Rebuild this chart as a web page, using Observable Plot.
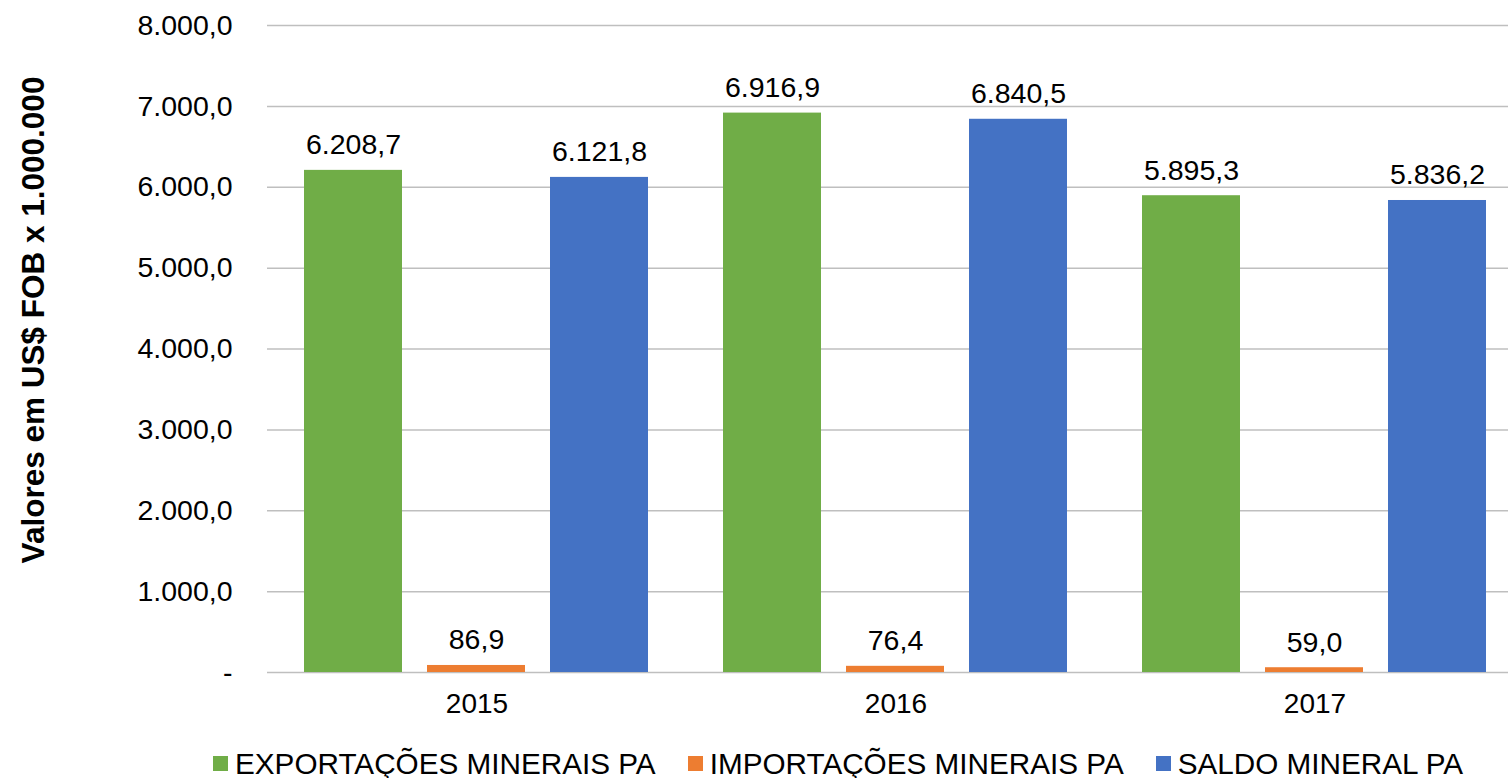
<!DOCTYPE html>
<html>
<head>
<meta charset="utf-8">
<script src="https://cdn.jsdelivr.net/npm/d3@7"></script>
<script src="https://cdn.jsdelivr.net/npm/@observablehq/plot@0.6"></script>
<style>
  html, body { margin: 0; padding: 0; background: #fff; }
  body { width: 1508px; height: 778px; overflow: hidden; position: relative; font-family: "Liberation Sans", Arial, sans-serif; }
  #legend { position: absolute; left: 213px; top: 747px; display: flex; align-items: center; font-size: 29.7px; line-height: 33px; color: #000; white-space: nowrap; }
  #legend .item { display: flex; align-items: center; margin-right: 32px; }
  #legend .sw { width: 15px; height: 15px; margin-right: 7px; }
</style>
</head>
<body>
<div id="chart"></div>
<div id="legend"></div>
<script>
const years = ["2015", "2016", "2017"];
const seriesNames = ["EXPORTAÇÕES MINERAIS PA", "IMPORTAÇÕES MINERAIS PA", "SALDO MINERAL PA"];
const exportacoes = [6208.7, 6916.9, 5895.3];
const importacoes = [86.9, 76.4, 59.0];
const saldo = [6121.8, 6840.5, 5836.2];
const colors = ["#70AD47", "#ED7D31", "#4472C4"];
const yTicks = [0, 1000, 2000, 3000, 4000, 5000, 6000, 7000, 8000];
const yLabel = "Valores em US$ FOB x 1.000.000";

const values = [exportacoes, importacoes, saldo];
const data = [];
years.forEach((yr, i) => {
  seriesNames.forEach((s, j) => data.push({year: yr, series: s, value: values[j][i]}));
});

const loc = d3.formatLocale({decimal: ",", thousands: ".", grouping: [3], currency: ["", ""]});
const fmt = loc.format(",.1f");

const chart = Plot.plot({
  width: 1508,
  height: 730,
  marginTop: 25,
  marginBottom: 58,
  marginLeft: 267,
  marginRight: 0,
  style: {fontFamily: "Liberation Sans, Arial, sans-serif", fontSize: "28px", color: "#000", background: "#fff"},
  fx: {domain: years, range: [267, 1524], padding: 0, label: null},
  x: {domain: seriesNames, paddingInner: 0.2, paddingOuter: 0.3, axis: null},
  y: {domain: [0, 8000], label: null},
  color: {domain: seriesNames, range: colors},
  marks: [
    Plot.gridY(yTicks, {stroke: "#bfbfbf", strokeOpacity: 1, strokeWidth: 1.5}),
    Plot.axisY({ticks: yTicks, tickSize: 0, tickPadding: 35, tickFormat: d => d === 0 ? "-" : fmt(d), fontSize: 28.5, label: null}),
    Plot.axisFx({anchor: "bottom", tickSize: 0, tickPadding: 21, fontSize: 28, label: null}),
    Plot.barY(data, {fx: "year", x: "series", y: "value", fill: "series"}),
    Plot.text(data, {fx: "year", x: "series", y: "value", text: d => fmt(d.value), lineAnchor: "bottom", dy: -16, fontSize: 28.5, fill: "#000"}),
    Plot.text([yLabel], {frameAnchor: "left", textAnchor: "middle", rotate: -90, dx: -234, dy: -29, fontSize: 31.5, fontWeight: "bold", fill: "#000", facet: "super"})
  ]
});
document.getElementById("chart").appendChild(chart);

const legend = document.getElementById("legend");
seriesNames.forEach((s, i) => {
  const item = document.createElement("div");
  item.className = "item";
  const sw = document.createElement("div");
  sw.className = "sw";
  sw.style.background = colors[i];
  const t = document.createElement("span");
  t.textContent = s;
  item.appendChild(sw);
  item.appendChild(t);
  legend.appendChild(item);
});
</script>
</body>
</html>
